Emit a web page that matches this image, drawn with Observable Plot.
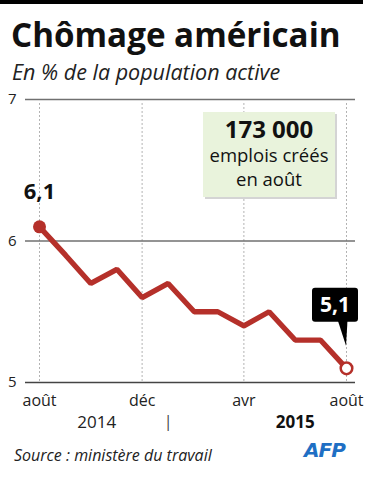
<!DOCTYPE html>
<html><head><meta charset="utf-8">
<script src="https://cdn.jsdelivr.net/npm/d3@7"></script>
<script src="https://cdn.jsdelivr.net/npm/@observablehq/plot@0.6"></script>
<style>
html,body{margin:0;padding:0;background:#fff;}
body{width:371px;height:480px;position:relative;overflow:hidden;font-family:"Open Sans",sans-serif;color:#111;}
#bar{position:absolute;left:0;top:0;width:363px;height:4px;background:#000;}
#title{position:absolute;left:11px;top:18px;font-size:33.2px;line-height:33.2px;font-weight:700;white-space:nowrap;}
#subtitle{position:absolute;left:12px;top:61px;font-size:21.5px;line-height:21.5px;font-style:italic;white-space:nowrap;color:#222;}
#chart{position:absolute;left:0;top:88px;}
#source{position:absolute;left:14px;top:447px;font-size:16px;line-height:16px;font-style:italic;color:#222;white-space:nowrap;}
#afp{position:absolute;left:304px;top:440px;font-size:20px;line-height:20px;font-weight:800;font-style:italic;color:#1f6fc4;letter-spacing:-1px;font-family:"DejaVu Sans",sans-serif;}
</style></head>
<body>
<div id="bar"></div>
<div id="title">Chômage américain</div>
<div id="subtitle">En % de la population active</div>
<div id="chart"></div>
<div id="source">Source : ministère du travail</div>
<div id="afp">AFP</div>
<script>
// Data
const months = ["2014-08","2014-09","2014-10","2014-11","2014-12","2015-01","2015-02","2015-03","2015-04","2015-05","2015-06","2015-07","2015-08"];
const rates = [6.1,5.9,5.7,5.8,5.6,5.7,5.5,5.5,5.4,5.5,5.3,5.3,5.1];
const tickMonths = ["2014-08","2014-12","2015-04","2015-08"];
const tickLabels = ["août","déc","avr","août"];
const yTicks = [5,6,7];
const yearLabels = ["2014","2015"];
const yearAnchors = ["2014-10-08","2015-06-01"];
const yearSeparator = ["2015-01-01"];
const boxLines = ["173 000","emplois créés","en août"];

const parse = d3.utcParse("%Y-%m");
const parseDay = d3.utcParse("%Y-%m-%d");
const data = months.map((m,i)=>({date:parse(m), value:rates[i]}));
const ticks = tickMonths.map(parse);
const fmt = new Map(ticks.map((t,i)=>[+t, tickLabels[i]]));
const years = yearLabels.map((l,i)=>({label:l, date:parseDay(yearAnchors[i])}));
const sep = yearSeparator.map(d=>({date:parseDay(d)}));
const first = data[0], last = data[data.length-1];
const red = "#b5302a";
const fmtNum = v => String(v).replace(".", ",");

const W = 371, H = 352;
const plot = Plot.plot({
  width: W, height: H,
  marginTop: 11, marginBottom: 58, marginLeft: 25, marginRight: 16,
  style: {fontFamily: '"Open Sans", sans-serif', background: "#fff", overflow: "visible"},
  x: {type: "utc", domain: [ticks[0], ticks[ticks.length-1]], insetLeft: 14, insetRight: 9},
  y: {domain: [5, 7]},
  marks: [
    Plot.ruleX(ticks, {y1: 6.97, y2: 5, stroke: "#9a9a9a", strokeWidth: 1, strokeDasharray: "1.5,2.5"}),
    Plot.ruleY(yTicks.filter(d=>d!==5), {stroke: "#707070", strokeWidth: 1.3}),
    Plot.ruleY([5], {stroke: "#444", strokeWidth: 1.6}),
    Plot.axisY({ticks: yTicks, tickSize: 0, tickPadding: 9, fontSize: 15, fill: "#222", tickFormat: d=>d, label: null}),
    Plot.axisX({ticks: ticks, tickSize: 0, tickPadding: 12, fontSize: 16, fill: "#222", tickFormat: d=>fmt.get(+d), label: null}),
    Plot.text(years.slice(0,1), {x: "date", text: "label", frameAnchor: "bottom", dy: 45, fontSize: 17, fill: "#222"}),
    Plot.text(years.slice(1), {x: "date", text: "label", frameAnchor: "bottom", dy: 45, fontSize: 17, fill: "#111", fontWeight: 700}),
    Plot.text(sep, {x: "date", text: ()=>"|", frameAnchor: "bottom", dy: 44, fontSize: 16, fill: "#444"}),
    Plot.line(data, {x: "date", y: "value", stroke: red, strokeWidth: 5.3, strokeLinejoin: "miter", strokeLinecap: "butt"}),
    Plot.dot([first], {x: "date", y: "value", r: 6.5, fill: red, stroke: "none"}),
    Plot.dot([last], {x: "date", y: "value", r: 5.8, fill: "#fff", stroke: red, strokeWidth: 2.5}),
    Plot.text([first], {x: "date", y: "value", text: d=>fmtNum(d.value), dy: -35, fontSize: 22, fontWeight: 700, fill: "#111"})
  ]
});
document.getElementById("chart").appendChild(plot);

// Annotations
const svg = d3.select(plot);
const xs = plot.scale("x"), ys = plot.scale("y");
const px = xs.apply(last.date), py = ys.apply(last.value);
const g = svg.append("g");
// callout for last value
g.append("path")
  .attr("d", `M${px-11},${py-56} L${px+2},${py-56} L${px},${py-22} Z`)
  .attr("fill", "#000");
g.append("rect").attr("x", px-34).attr("y", py-80).attr("width", 46).attr("height", 34).attr("rx", 3).attr("fill", "#000");
g.append("text").attr("x", px-11).attr("y", py-55.5).attr("text-anchor", "middle")
  .attr("font-size", 21).attr("font-weight", 700).attr("fill", "#fff").text(fmtNum(last.value));

// green info box
const bx = 203, by = 24, bw = 132, bh = 85;
g.append("rect").attr("x", bx+2).attr("y", by+2).attr("width", bw).attr("height", bh).attr("fill", "#d4d4d4");
g.append("rect").attr("x", bx).attr("y", by).attr("width", bw).attr("height", bh).attr("fill", "#e9f3dc");
const cx = bx + bw/2;
g.append("text").attr("x", cx).attr("y", 50).attr("text-anchor", "middle").attr("font-size", 24).attr("font-weight", 700).attr("fill", "#111").text(boxLines[0]);
g.append("text").attr("x", cx).attr("y", 74).attr("text-anchor", "middle").attr("font-size", 18.5).attr("fill", "#111").text(boxLines[1]);
g.append("text").attr("x", cx).attr("y", 98).attr("text-anchor", "middle").attr("font-size", 18.5).attr("fill", "#111").text(boxLines[2]);
</script>
</body></html>
